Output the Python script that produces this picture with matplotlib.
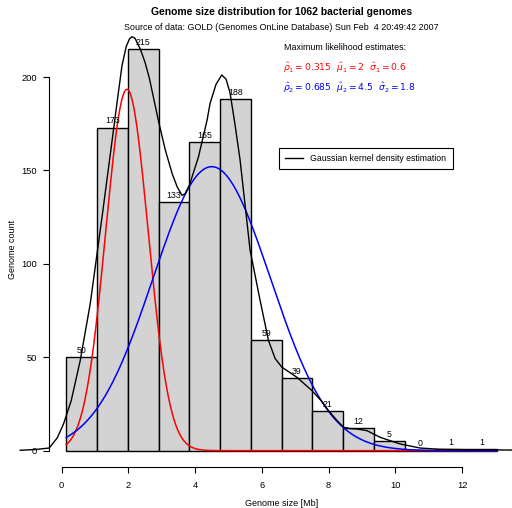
import numpy as np
import matplotlib
matplotlib.use("Agg")
import matplotlib.pyplot as plt

plt.rcParams['font.family'] = ['Liberation Sans', 'DejaVu Sans']
plt.rcParams['mathtext.fontset'] = 'dejavusans'

# histogram of genome sizes (Mb)
bin_left = 0.14
bin_width = 0.922
counts = [50, 173, 215, 133, 165, 188, 59, 39, 21, 12, 5, 0, 1, 1]
n_genomes = 1062

# mixture fit (two gaussians), as printed and as drawn
p_hat = [0.315, 0.685]
mu_hat = [1.96, 4.5]
sd_hat = [0.636, 1.76]
fit_labels = [r'$\hat{\rho}_1 = 0.315\ \ \hat{\mu}_1 = 2\ \ \hat{\sigma}_1 = 0.6$',
              r'$\hat{\rho}_2 = 0.685\ \ \hat{\mu}_2 = 4.5\ \ \hat{\sigma}_2 = 1.8$']
fit_colors = ['red', 'blue']

# kernel density estimate (x in Mb, y in counts)
kde_x = [-1.24, -0.79, -0.37, -0.13, 0.06, 0.29, 0.56, 0.86, 1.22, 1.50, 1.66, 1.81,
         1.94, 2.04, 2.11, 2.20, 2.36, 2.50, 2.63, 2.91, 3.11, 3.32, 3.47, 3.61, 3.70,
         3.83, 4.10, 4.36, 4.45, 4.63, 4.80, 4.93, 5.05, 5.20, 5.35, 5.50, 5.65,
         5.95, 6.20, 6.40, 6.60, 7.05, 7.50, 7.80, 8.00, 8.23, 8.45, 8.65, 8.85,
         9.15, 9.55, 10.14, 10.74, 11.34, 12.14, 13.04, 13.50]
kde_y = [0.2, 0.6, 1.4, 6.8, 14.3, 26.8, 48.3, 78.7, 126.0, 164.0, 186.0, 206.0,
         216.5, 220.6, 221.6, 220.8, 215.0, 208.0, 199.5, 176.0, 160.9, 148.0, 141.0, 136.7, 137.5,
         142.1, 157.1, 176.9, 185.9, 196.2, 201.1, 198.9, 191.4, 174.3, 155.5, 131.4, 107.2,
         80.4, 59.0, 49.3, 44.7, 39.3, 32.2, 26.3, 21.4, 16.6, 12.5, 11.8, 11.6,
         10.7, 7.1, 3.6, 1.4, 0.7, 0.5, 0.4, 0.3]

W, H = 512, 508
fig = plt.figure(figsize=(W / 100, H / 100), dpi=100)

xlim = (-0.376, 13.566)
ylim = (-8.6, 223.6)
left_px, right_px, top_px, bot_px = 49, 514.3, 33, 466.7
ax = fig.add_axes([left_px / W, 1 - bot_px / H, (right_px - left_px) / W, (bot_px - top_px) / H])
ax.set_xlim(*xlim)
ax.set_ylim(*ylim)
ax.patch.set_visible(False)

edges = bin_left + bin_width * np.arange(len(counts) + 1)
ax.bar(edges[:-1], counts, width=bin_width, align='edge', color='#d3d3d3',
       edgecolor='black', linewidth=1.0, zorder=1)
for xl, c in zip(edges[:-1], counts):
    ax.text(xl + bin_width / 2, c + 1.2, str(c), ha='center', va='bottom', fontsize=6.3, zorder=4)

xs = np.linspace(edges[0], edges[-1], 600)
for p, m, s, col in zip(p_hat, mu_hat, sd_hat, fit_colors):
    ys = n_genomes * bin_width * p * np.exp(-0.5 * ((xs - m) / s) ** 2) / (s * np.sqrt(2 * np.pi))
    ax.plot(xs, ys, color=col, lw=1.1, zorder=3)

kde_line, = ax.plot(kde_x, kde_y, color='black', lw=1.0, zorder=3, clip_on=False,
                    label='Gaussian kernel density estimation')

for side in ['top', 'right']:
    ax.spines[side].set_visible(False)
ax.spines['left'].set_bounds(0, 200)
ax.spines['bottom'].set_bounds(0, 12)
ax.set_xticks(np.arange(0, 13, 2))
ax.set_yticks(np.arange(0, 201, 50))
ax.tick_params(direction='out', length=4.5, width=0.8, labelsize=6.7)
ax.tick_params(axis='x', pad=6)
ax.tick_params(axis='y', pad=4)

ax.set_xlabel('Genome size [Mb]', fontsize=6.5)
ax.set_ylabel('Genome count', fontsize=6.5)
ax.xaxis.set_label_coords(((left_px + right_px) / 2 - left_px) / (right_px - left_px),
                          -(503 - bot_px) / (bot_px - top_px))
ax.yaxis.set_label_coords(-(left_px - 13) / (right_px - left_px), 0.5)
ax.xaxis.label.set_va('center')
ax.yaxis.label.set_va('center')

cx = (left_px + right_px) / 2 / W
fig.text(cx, 1 - 12 / H, 'Genome size distribution for 1062 bacterial genomes',
         ha='center', va='center', fontsize=7.5, fontweight='bold')
fig.text(cx, 1 - 28 / H, 'Source of data: GOLD (Genomes OnLine Database) Sun Feb  4 20:49:42 2007',
         ha='center', va='center', fontsize=6.4)

fig.text(284 / W, 1 - 48 / H, 'Maximum likelihood estimates:', ha='left', va='center', fontsize=6.4)
for i, (lab, col) in enumerate(zip(fit_labels, fit_colors)):
    fig.text(283 / W, 1 - (68 + 20 * i) / H, lab, ha='left', va='center', fontsize=6.6, color=col)

leg = ax.legend(handles=[kde_line], loc='upper left', bbox_to_anchor=(279 / W, 1 - 148 / H),
                bbox_transform=fig.transFigure, borderaxespad=0, fontsize=6.3, frameon=True,
                fancybox=False, edgecolor='black', framealpha=1, handlelength=2.0,
                borderpad=0.7, handletextpad=0.9)
leg.get_frame().set_linewidth(0.8)

fig.savefig('out.png', dpi=100)
